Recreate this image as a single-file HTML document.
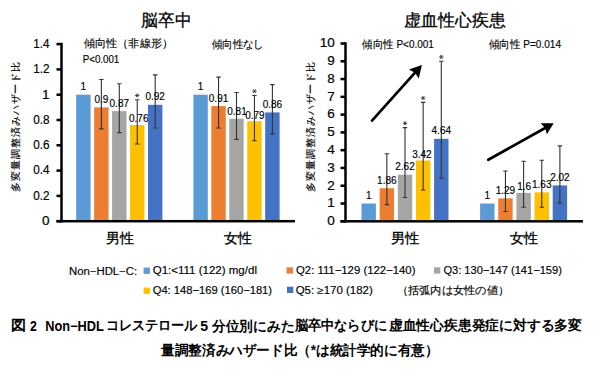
<!DOCTYPE html><html><head><meta charset="utf-8"><style>html,body{margin:0;padding:0;background:#fff;width:600px;height:373px;overflow:hidden}svg{display:block}text{font-family:"Liberation Sans", sans-serif;fill:#000}</style></head><body>
<svg width="600" height="373" viewBox="0 0 600 373">
<text x="141.2" y="25.6" font-size="16.5" stroke="#000" stroke-width="0.3" textLength="50.24" lengthAdjust="spacingAndGlyphs">脳卒中</text>
<text x="404.0" y="26.0" font-size="16.5" stroke="#000" stroke-width="0.3" textLength="101.64" lengthAdjust="spacingAndGlyphs">虚血性心疾患</text>
<text x="83.7" y="47.25" font-size="10.5" stroke="#000" stroke-width="0.15" textLength="89.37" lengthAdjust="spacingAndGlyphs">傾向性（非線形）</text>
<text x="82.7" y="62.6" font-size="10" stroke="#000" stroke-width="0.15" textLength="36.62" lengthAdjust="spacingAndGlyphs">P&lt;0.001</text>
<text x="211.7" y="47.5" font-size="10.5" stroke="#000" stroke-width="0.15" textLength="52.21" lengthAdjust="spacingAndGlyphs">傾向性なし</text>
<text x="362.2" y="47.7" font-size="10.5" stroke="#000" stroke-width="0.15" textLength="71.72" lengthAdjust="spacingAndGlyphs">傾向性 P&lt;0.001</text>
<text x="488.8" y="47.7" font-size="10.5" stroke="#000" stroke-width="0.15" textLength="72.26" lengthAdjust="spacingAndGlyphs">傾向性 P=0.014</text>
<text transform="translate(19.15,191.9) rotate(-90)" font-size="10" stroke="#000" stroke-width="0.15" textLength="130.26" lengthAdjust="spacing">多変量調整済みハザード比</text>
<text transform="translate(314.1,191.5) rotate(-90)" font-size="10" stroke="#000" stroke-width="0.15" textLength="129.7" lengthAdjust="spacing">多変量調整済みハザード比</text>
<text x="105.8" y="242.65" font-size="14" stroke="#000" stroke-width="0.3" textLength="28.0" lengthAdjust="spacingAndGlyphs">男性</text>
<text x="223.5" y="242.65" font-size="14" stroke="#000" stroke-width="0.3" textLength="28.02" lengthAdjust="spacingAndGlyphs">女性</text>
<text x="390.8" y="242.65" font-size="14" stroke="#000" stroke-width="0.3" textLength="28.75" lengthAdjust="spacingAndGlyphs">男性</text>
<text x="510.2" y="242.65" font-size="14" stroke="#000" stroke-width="0.3" textLength="28.2" lengthAdjust="spacingAndGlyphs">女性</text>
<rect x="60.25" y="42.85" width="2.5" height="179.6" fill="#000"/>
<rect x="56.5" y="219.95" width="5" height="2.5" fill="#000"/>
<text x="49.5" y="225.00" text-anchor="end" font-size="13.5" stroke="#000" stroke-width="0.2">0</text>
<rect x="56.5" y="194.64999999999998" width="5" height="2.5" fill="#000"/>
<text x="49.5" y="199.70" text-anchor="end" font-size="13.5" stroke="#000" stroke-width="0.2" textLength="16.3" lengthAdjust="spacingAndGlyphs">0.2</text>
<rect x="56.5" y="169.35" width="5" height="2.5" fill="#000"/>
<text x="49.5" y="174.40" text-anchor="end" font-size="13.5" stroke="#000" stroke-width="0.2" textLength="16.3" lengthAdjust="spacingAndGlyphs">0.4</text>
<rect x="56.5" y="144.05" width="5" height="2.5" fill="#000"/>
<text x="49.5" y="149.10" text-anchor="end" font-size="13.5" stroke="#000" stroke-width="0.2" textLength="16.3" lengthAdjust="spacingAndGlyphs">0.6</text>
<rect x="56.5" y="118.74999999999999" width="5" height="2.5" fill="#000"/>
<text x="49.5" y="123.80" text-anchor="end" font-size="13.5" stroke="#000" stroke-width="0.2" textLength="16.3" lengthAdjust="spacingAndGlyphs">0.8</text>
<rect x="56.5" y="93.44999999999999" width="5" height="2.5" fill="#000"/>
<text x="49.5" y="98.50" text-anchor="end" font-size="13.5" stroke="#000" stroke-width="0.2">1</text>
<rect x="56.5" y="68.15" width="5" height="2.5" fill="#000"/>
<text x="49.5" y="73.20" text-anchor="end" font-size="13.5" stroke="#000" stroke-width="0.2" textLength="16.3" lengthAdjust="spacingAndGlyphs">1.2</text>
<rect x="56.5" y="42.849999999999994" width="5" height="2.5" fill="#000"/>
<text x="49.5" y="47.90" text-anchor="end" font-size="13.5" stroke="#000" stroke-width="0.2" textLength="16.3" lengthAdjust="spacingAndGlyphs">1.4</text>
<rect x="56.5" y="219.95" width="238.5" height="2.5" fill="#000"/>
<rect x="76.20" y="94.70" width="14.4" height="125.30" fill="#5B9BD5"/>
<text x="83.40" y="90.20" text-anchor="middle" font-size="10" stroke="#000" stroke-width="0.15">1</text>
<rect x="94.15" y="107.35" width="14.4" height="112.65" fill="#ED7D31"/>
<path d="M101.35 79.52V128.85M99.15 79.52H103.55M99.15 128.85H103.55" stroke="#333" stroke-width="1.1" fill="none"/>
<text x="101.35" y="102.85" text-anchor="middle" font-size="10" stroke="#000" stroke-width="0.15">0.9</text>
<rect x="112.10" y="111.14" width="14.4" height="108.85" fill="#A5A5A5"/>
<path d="M119.30 83.82V132.65M117.10 83.82H121.50M117.10 132.65H121.50" stroke="#333" stroke-width="1.1" fill="none"/>
<text x="119.30" y="106.64" text-anchor="middle" font-size="10" stroke="#000" stroke-width="0.15">0.87</text>
<rect x="130.05" y="125.06" width="14.4" height="94.94" fill="#FFC000"/>
<path d="M137.25 99.76V144.03M135.05 99.76H139.45M135.05 144.03H139.45" stroke="#333" stroke-width="1.1" fill="none"/>
<path d="M135.05 95.46L139.45 95.46M136.15 93.55L138.35 97.37M138.35 93.55L136.15 97.37" stroke="#333" stroke-width="0.9" fill="none"/>
<text x="138.75" y="121.56" text-anchor="middle" font-size="10" stroke="#000" stroke-width="0.15">0.76</text>
<rect x="148.00" y="104.82" width="14.4" height="115.18" fill="#4472C4"/>
<path d="M155.20 74.84V127.97M153.00 74.84H157.40M153.00 127.97H157.40" stroke="#333" stroke-width="1.1" fill="none"/>
<text x="155.20" y="100.32" text-anchor="middle" font-size="10" stroke="#000" stroke-width="0.15">0.92</text>
<rect x="193.40" y="94.70" width="14.4" height="125.30" fill="#5B9BD5"/>
<text x="200.60" y="90.20" text-anchor="middle" font-size="10" stroke="#000" stroke-width="0.15">1</text>
<rect x="211.35" y="106.08" width="14.4" height="113.92" fill="#ED7D31"/>
<path d="M218.55 77.12V127.97M216.35 77.12H220.75M216.35 127.97H220.75" stroke="#333" stroke-width="1.1" fill="none"/>
<text x="218.55" y="101.58" text-anchor="middle" font-size="10" stroke="#000" stroke-width="0.15">0.91</text>
<rect x="229.30" y="118.73" width="14.4" height="101.27" fill="#A5A5A5"/>
<path d="M236.50 92.55V139.35M234.30 92.55H238.70M234.30 139.35H238.70" stroke="#333" stroke-width="1.1" fill="none"/>
<text x="237.00" y="115.23" text-anchor="middle" font-size="10" stroke="#000" stroke-width="0.15">0.81</text>
<rect x="247.25" y="121.26" width="14.4" height="98.73" fill="#FFC000"/>
<path d="M254.45 95.46V140.75M252.25 95.46H256.65M252.25 140.75H256.65" stroke="#333" stroke-width="1.1" fill="none"/>
<path d="M252.25 91.16L256.65 91.16M253.35 89.25L255.55 93.06M255.55 89.25L253.35 93.06" stroke="#333" stroke-width="0.9" fill="none"/>
<text x="254.95" y="119.46" text-anchor="middle" font-size="10" stroke="#000" stroke-width="0.15">0.79</text>
<rect x="265.20" y="112.41" width="14.4" height="107.59" fill="#4472C4"/>
<path d="M272.40 84.58V133.91M270.20 84.58H274.60M270.20 133.91H274.60" stroke="#333" stroke-width="1.1" fill="none"/>
<text x="272.40" y="107.91" text-anchor="middle" font-size="10" stroke="#000" stroke-width="0.15">0.86</text>
<rect x="344.25" y="42.25" width="2.5" height="180.3" fill="#000"/>
<rect x="340.5" y="220.05" width="5" height="2.5" fill="#000"/>
<text x="334.8" y="225.10" text-anchor="end" font-size="13.5" stroke="#000" stroke-width="0.2">0</text>
<rect x="340.5" y="202.27" width="5" height="2.5" fill="#000"/>
<text x="334.8" y="207.32" text-anchor="end" font-size="13.5" stroke="#000" stroke-width="0.2">1</text>
<rect x="340.5" y="184.49" width="5" height="2.5" fill="#000"/>
<text x="334.8" y="189.54" text-anchor="end" font-size="13.5" stroke="#000" stroke-width="0.2">2</text>
<rect x="340.5" y="166.71" width="5" height="2.5" fill="#000"/>
<text x="334.8" y="171.76" text-anchor="end" font-size="13.5" stroke="#000" stroke-width="0.2">3</text>
<rect x="340.5" y="148.93" width="5" height="2.5" fill="#000"/>
<text x="334.8" y="153.98" text-anchor="end" font-size="13.5" stroke="#000" stroke-width="0.2">4</text>
<rect x="340.5" y="131.15" width="5" height="2.5" fill="#000"/>
<text x="334.8" y="136.20" text-anchor="end" font-size="13.5" stroke="#000" stroke-width="0.2">5</text>
<rect x="340.5" y="113.37" width="5" height="2.5" fill="#000"/>
<text x="334.8" y="118.42" text-anchor="end" font-size="13.5" stroke="#000" stroke-width="0.2">6</text>
<rect x="340.5" y="95.59" width="5" height="2.5" fill="#000"/>
<text x="334.8" y="100.64" text-anchor="end" font-size="13.5" stroke="#000" stroke-width="0.2">7</text>
<rect x="340.5" y="77.81" width="5" height="2.5" fill="#000"/>
<text x="334.8" y="82.86" text-anchor="end" font-size="13.5" stroke="#000" stroke-width="0.2">8</text>
<rect x="340.5" y="60.03" width="5" height="2.5" fill="#000"/>
<text x="334.8" y="65.08" text-anchor="end" font-size="13.5" stroke="#000" stroke-width="0.2">9</text>
<rect x="340.5" y="42.25" width="5" height="2.5" fill="#000"/>
<text x="334.8" y="47.30" text-anchor="end" font-size="13.5" stroke="#000" stroke-width="0.2">10</text>
<rect x="340.5" y="220.05" width="242.5" height="2.5" fill="#000"/>
<rect x="361.50" y="203.52" width="14.4" height="16.58" fill="#5B9BD5"/>
<text x="368.70" y="199.02" text-anchor="middle" font-size="10" stroke="#000" stroke-width="0.15">1</text>
<rect x="379.65" y="188.23" width="14.4" height="31.87" fill="#ED7D31"/>
<path d="M386.85 153.74V204.59M384.65 153.74H389.05M384.65 204.59H389.05" stroke="#333" stroke-width="1.1" fill="none"/>
<text x="386.85" y="183.73" text-anchor="middle" font-size="10" stroke="#000" stroke-width="0.15">1.86</text>
<rect x="397.80" y="174.72" width="14.4" height="45.38" fill="#A5A5A5"/>
<path d="M405.00 127.60V197.47M402.80 127.60H407.20M402.80 197.47H407.20" stroke="#333" stroke-width="1.1" fill="none"/>
<path d="M402.80 123.30L407.20 123.30M403.90 121.39L406.10 125.20M406.10 121.39L403.90 125.20" stroke="#333" stroke-width="0.9" fill="none"/>
<text x="405.00" y="170.22" text-anchor="middle" font-size="10" stroke="#000" stroke-width="0.15">2.62</text>
<rect x="415.95" y="160.49" width="14.4" height="59.61" fill="#FFC000"/>
<path d="M423.15 102.35V190.01M420.95 102.35H425.35M420.95 190.01H425.35" stroke="#333" stroke-width="1.1" fill="none"/>
<path d="M420.95 98.05L425.35 98.05M422.05 96.15L424.25 99.96M424.25 96.15L422.05 99.96" stroke="#333" stroke-width="0.9" fill="none"/>
<text x="421.95" y="157.79" text-anchor="middle" font-size="10" stroke="#000" stroke-width="0.15">3.42</text>
<rect x="434.10" y="138.80" width="14.4" height="81.30" fill="#4472C4"/>
<path d="M441.30 61.28V178.27M439.10 61.28H443.50M439.10 178.27H443.50" stroke="#333" stroke-width="1.1" fill="none"/>
<path d="M439.10 56.98L443.50 56.98M440.20 55.07L442.40 58.89M442.40 55.07L440.20 58.89" stroke="#333" stroke-width="0.9" fill="none"/>
<text x="441.30" y="134.30" text-anchor="middle" font-size="10" stroke="#000" stroke-width="0.15">4.64</text>
<rect x="480.10" y="203.52" width="14.4" height="16.58" fill="#5B9BD5"/>
<text x="487.30" y="199.02" text-anchor="middle" font-size="10" stroke="#000" stroke-width="0.15">1</text>
<rect x="498.25" y="198.36" width="14.4" height="21.74" fill="#ED7D31"/>
<path d="M505.45 170.98V211.52M503.25 170.98H507.65M503.25 211.52H507.65" stroke="#333" stroke-width="1.1" fill="none"/>
<text x="505.45" y="193.86" text-anchor="middle" font-size="10" stroke="#000" stroke-width="0.15">1.29</text>
<rect x="516.40" y="192.85" width="14.4" height="27.25" fill="#A5A5A5"/>
<path d="M523.60 161.20V207.25M521.40 161.20H525.80M521.40 207.25H525.80" stroke="#333" stroke-width="1.1" fill="none"/>
<text x="524.10" y="190.35" text-anchor="middle" font-size="10" stroke="#000" stroke-width="0.15">1.6</text>
<rect x="534.55" y="192.32" width="14.4" height="27.78" fill="#FFC000"/>
<path d="M541.75 160.31V207.25M539.55 160.31H543.95M539.55 207.25H543.95" stroke="#333" stroke-width="1.1" fill="none"/>
<text x="541.75" y="187.82" text-anchor="middle" font-size="10" stroke="#000" stroke-width="0.15">1.63</text>
<rect x="552.70" y="185.38" width="14.4" height="34.72" fill="#4472C4"/>
<path d="M559.90 145.91V203.16M557.70 145.91H562.10M557.70 203.16H562.10" stroke="#333" stroke-width="1.1" fill="none"/>
<text x="559.90" y="180.88" text-anchor="middle" font-size="10" stroke="#000" stroke-width="0.15">2.02</text>
<line x1="372" y1="120.6" x2="415.28" y2="72.46" stroke="#000" stroke-width="2.7" stroke-linecap="round"/>
<polygon points="421.9,65.1 418.78,78.44 414.95,72.83 408.97,69.61" fill="#000"/>
<line x1="488.3" y1="159.8" x2="545.58" y2="127.74" stroke="#000" stroke-width="2.7" stroke-linecap="round"/>
<polygon points="553.7,123.2 546.88,134.35 545.15,127.99 540.63,123.18" fill="#000"/>
<rect x="143.6" y="267.6" width="6.3" height="6.3" fill="#5B9BD5"/>
<rect x="286.6" y="267.3" width="6.3" height="6.3" fill="#ED7D31"/>
<rect x="434" y="267.3" width="6.3" height="6.3" fill="#A5A5A5"/>
<rect x="143.6" y="287.6" width="6.3" height="6.3" fill="#FFC000"/>
<rect x="287" y="286.7" width="6.3" height="6.3" fill="#4472C4"/>
<text x="69.1" y="274.9" font-size="10" stroke="#000" stroke-width="0.15" textLength="68.04" lengthAdjust="spacingAndGlyphs">Non−HDL−C:</text>
<text x="152.7" y="274.45" font-size="10.5" stroke="#000" stroke-width="0.15" textLength="104.27" lengthAdjust="spacingAndGlyphs">Q1:&lt;111 (122) mg/dl</text>
<text x="296.0" y="274.45" font-size="10.5" stroke="#000" stroke-width="0.15" textLength="119.43" lengthAdjust="spacingAndGlyphs">Q2: 111−129 (122−140)</text>
<text x="443.4" y="274.45" font-size="10.5" stroke="#000" stroke-width="0.15" textLength="118.46" lengthAdjust="spacingAndGlyphs">Q3: 130−147 (141−159)</text>
<text x="152.7" y="293.95" font-size="10.5" stroke="#000" stroke-width="0.15" textLength="119.37" lengthAdjust="spacingAndGlyphs">Q4: 148−169 (160−181)</text>
<text x="295.7" y="293.95" font-size="10.5" stroke="#000" stroke-width="0.15" textLength="77.11" lengthAdjust="spacingAndGlyphs">Q5: ≥170 (182)</text>
<text x="396.5" y="294.0" font-size="10.5" stroke="#000" stroke-width="0.15" textLength="112.68" lengthAdjust="spacingAndGlyphs">（括弧内は女性の値）</text>
<text x="11.0" y="330.25" font-size="14" font-weight="bold" stroke="#000" stroke-width="0" textLength="15.05" lengthAdjust="spacingAndGlyphs">図</text>
<text x="30.0" y="330.75" font-size="14" font-weight="bold" stroke="#000" stroke-width="0" textLength="6.85" lengthAdjust="spacingAndGlyphs">2</text>
<text x="45.25" y="330.75" font-size="14" font-weight="bold" stroke="#000" stroke-width="0" textLength="58.68" lengthAdjust="spacingAndGlyphs">Non−HDL</text>
<text x="105.5" y="329.75" font-size="14" font-weight="bold" stroke="#000" stroke-width="0" textLength="91.58" lengthAdjust="spacingAndGlyphs">コレステロール</text>
<text x="200.25" y="330.75" font-size="14" font-weight="bold" stroke="#000" stroke-width="0" textLength="7.87" lengthAdjust="spacingAndGlyphs">5</text>
<text x="212.0" y="330.75" font-size="14" font-weight="bold" stroke="#000" stroke-width="0" textLength="82.2" lengthAdjust="spacingAndGlyphs">分位別にみた</text>
<text x="294.5" y="330.25" font-size="14" font-weight="bold" stroke="#000" stroke-width="0" textLength="92.55" lengthAdjust="spacingAndGlyphs">脳卒中ならびに</text>
<text x="388.75" y="330.25" font-size="14" font-weight="bold" stroke="#000" stroke-width="0" textLength="193.3" lengthAdjust="spacingAndGlyphs">虚血性心疾患発症に対する多変</text>
<text x="161.2" y="355.35" font-size="14" font-weight="bold" stroke="#000" stroke-width="0" textLength="277.26" lengthAdjust="spacingAndGlyphs">量調整済みハザード比（*は統計学的に有意）</text>
</svg></body></html>
